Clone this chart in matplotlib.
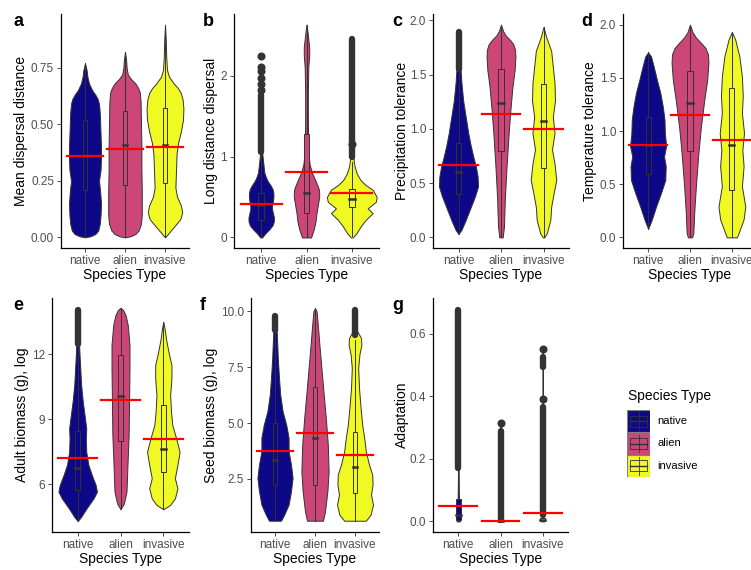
import matplotlib
matplotlib.use("Agg")
import matplotlib.pyplot as plt
from matplotlib.patches import Rectangle

plt.rcParams["font.family"] = ["Liberation Sans", "DejaVu Sans"]

SPECIES = ["native", "alien", "invasive"]
FILL = ["#0D0887", "#CC4678", "#F0F921"]
INK = "#333333"
W, H = 751, 570

# each violin: (y levels, half-width at that level in category units)
# box: (whisker lo, q1, median, q3, whisker hi); spans: dense outlier runs

# a - mean dispersal distance
a_prof = [
    ([0.00, 0.005, 0.015, 0.03, 0.06, 0.10, 0.15, 0.20, 0.25, 0.30, 0.35, 0.40, 0.45, 0.50, 0.55, 0.59, 0.61, 0.63, 0.65, 0.68, 0.71, 0.74, 0.77],
     [0.00, 0.14, 0.26, 0.33, 0.37, 0.39, 0.40, 0.38, 0.35, 0.39, 0.40, 0.40, 0.39, 0.38, 0.37, 0.35, 0.32, 0.26, 0.18, 0.10, 0.06, 0.04, 0.00]),
    ([0.00, 0.005, 0.015, 0.03, 0.06, 0.10, 0.20, 0.30, 0.40, 0.50, 0.60, 0.64, 0.66, 0.68, 0.70, 0.72, 0.75, 0.78, 0.82],
     [0.00, 0.14, 0.26, 0.34, 0.40, 0.42, 0.42, 0.41, 0.41, 0.40, 0.39, 0.37, 0.33, 0.26, 0.15, 0.07, 0.04, 0.03, 0.00]),
    ([0.00, 0.01, 0.025, 0.05, 0.08, 0.11, 0.14, 0.18, 0.22, 0.27, 0.32, 0.37, 0.42, 0.47, 0.52, 0.57, 0.61, 0.64, 0.66, 0.68, 0.71, 0.74, 0.80, 0.87, 0.94],
     [0.00, 0.05, 0.12, 0.24, 0.38, 0.43, 0.40, 0.30, 0.26, 0.27, 0.28, 0.29, 0.33, 0.40, 0.45, 0.46, 0.44, 0.39, 0.32, 0.22, 0.10, 0.05, 0.03, 0.02, 0.00]),
]
a_box = [(0.0, 0.21, 0.36, 0.52, 0.77), (0.0, 0.23, 0.41, 0.56, 0.82), (0.0, 0.24, 0.41, 0.57, 0.94)]
a_mean = [0.36, 0.39, 0.40]
a_spans = [[], [], []]
a_pts = [[], [], []]

# b - long distance dispersal
b_prof = [
    ([0.00, 0.05, 0.10, 0.15, 0.20, 0.25, 0.30, 0.35, 0.40, 0.45, 0.50, 0.55, 0.60, 0.65, 0.70, 0.75, 0.80, 0.90, 1.00, 1.05],
     [0.02, 0.09, 0.18, 0.25, 0.28, 0.28, 0.26, 0.24, 0.24, 0.26, 0.27, 0.27, 0.25, 0.20, 0.14, 0.10, 0.07, 0.05, 0.03, 0.02]),
    ([0.00, 0.05, 0.10, 0.20, 0.30, 0.40, 0.50, 0.55, 0.60, 0.70, 0.80, 0.90, 1.00, 1.20, 1.50, 1.80, 2.10, 2.25, 2.35, 2.45, 2.55, 2.63],
     [0.10, 0.13, 0.16, 0.20, 0.22, 0.25, 0.28, 0.28, 0.27, 0.20, 0.12, 0.07, 0.05, 0.035, 0.03, 0.03, 0.04, 0.06, 0.06, 0.04, 0.02, 0.00]),
    ([0.00, 0.05, 0.14, 0.22, 0.30, 0.36, 0.44, 0.50, 0.59, 0.65, 0.71, 0.79, 0.88, 0.96, 1.05, 1.15],
     [0.02, 0.10, 0.20, 0.31, 0.46, 0.35, 0.53, 0.55, 0.46, 0.30, 0.19, 0.11, 0.06, 0.04, 0.03, 0.02]),
]
b_box = [(0.0, 0.22, 0.40, 0.55, 1.03), (0.0, 0.30, 0.55, 1.28, 2.63), (0.02, 0.38, 0.47, 0.60, 0.93)]
b_mean = [0.41, 0.81, 0.55]
b_spans = [[(1.05, 1.76)], [], [(1.0, 2.45)]]
b_pts = [[1.82, 1.90, 1.97, 2.05, 2.10, 2.24], [], [1.15]]

# c - precipitation tolerance
c_prof = [
    ([0.03, 0.07, 0.16, 0.28, 0.38, 0.47, 0.56, 0.65, 0.74, 0.84, 0.96, 1.11, 1.26, 1.42, 1.54, 1.70, 1.90],
     [0.00, 0.07, 0.17, 0.29, 0.39, 0.46, 0.45, 0.41, 0.35, 0.29, 0.23, 0.17, 0.11, 0.07, 0.05, 0.04, 0.02]),
    ([0.00, 0.10, 0.35, 0.65, 0.96, 1.17, 1.39, 1.54, 1.66, 1.73, 1.78, 1.82, 1.86, 1.90, 1.96],
     [0.04, 0.07, 0.09, 0.13, 0.18, 0.22, 0.27, 0.32, 0.34, 0.33, 0.29, 0.21, 0.11, 0.05, 0.00]),
    ([0.00, 0.04, 0.16, 0.28, 0.41, 0.53, 0.68, 0.81, 0.96, 1.11, 1.26, 1.42, 1.57, 1.72, 1.85, 1.94],
     [0.02, 0.08, 0.16, 0.18, 0.24, 0.30, 0.26, 0.20, 0.26, 0.22, 0.27, 0.26, 0.22, 0.18, 0.06, 0.00]),
]
c_box = [(0.03, 0.40, 0.60, 0.87, 1.55), (0.0, 0.80, 1.24, 1.55, 1.96), (0.0, 0.64, 1.07, 1.41, 1.94)]
c_mean = [0.67, 1.14, 1.00]
c_spans = [[(1.55, 1.89)], [], []]
c_pts = [[], [], []]

# d - temperature tolerance
d_prof = [
    ([0.08, 0.17, 0.29, 0.42, 0.54, 0.67, 0.76, 0.86, 0.98, 1.11, 1.23, 1.36, 1.48, 1.61, 1.70, 1.74],
     [0.00, 0.09, 0.19, 0.31, 0.41, 0.42, 0.38, 0.43, 0.40, 0.39, 0.35, 0.29, 0.21, 0.13, 0.07, 0.00]),
    ([0.00, 0.04, 0.23, 0.48, 0.79, 1.04, 1.29, 1.48, 1.64, 1.72, 1.78, 1.83, 1.88, 1.93, 2.00],
     [0.05, 0.08, 0.10, 0.14, 0.20, 0.26, 0.34, 0.41, 0.44, 0.43, 0.37, 0.26, 0.14, 0.06, 0.00]),
    ([0.00, 0.04, 0.17, 0.29, 0.48, 0.67, 0.82, 0.98, 1.17, 1.33, 1.51, 1.70, 1.86, 1.93],
     [0.12, 0.16, 0.28, 0.32, 0.24, 0.28, 0.25, 0.29, 0.24, 0.26, 0.24, 0.18, 0.08, 0.00]),
]
d_box = [(0.08, 0.60, 0.87, 1.13, 1.74), (0.0, 0.81, 1.26, 1.56, 2.00), (0.0, 0.45, 0.87, 1.40, 1.93)]
d_mean = [0.87, 1.15, 0.92]
d_spans = [[], [], []]
d_pts = [[], [], []]

# e - adult biomass (g), log
e_prof = [
    ([4.3, 4.5, 4.9, 5.35, 5.66, 5.97, 6.43, 6.9, 7.5, 8.12, 8.58, 9.05, 9.8, 10.6, 11.35, 12.1, 12.6],
     [0.00, 0.08, 0.21, 0.37, 0.45, 0.42, 0.33, 0.25, 0.20, 0.19, 0.20, 0.17, 0.12, 0.08, 0.06, 0.04, 0.03]),
    ([4.85, 5.12, 5.66, 6.74, 8.28, 9.8, 11.35, 12.43, 13.35, 13.8, 14.05, 14.15],
     [0.00, 0.08, 0.14, 0.16, 0.19, 0.20, 0.21, 0.21, 0.17, 0.12, 0.06, 0.00]),
    ([4.85, 5.05, 5.35, 5.82, 6.28, 6.9, 7.5, 8.12, 8.74, 9.35, 10.12, 10.9, 11.5, 12.12, 12.74, 13.2, 13.5],
     [0.00, 0.16, 0.27, 0.33, 0.27, 0.33, 0.38, 0.30, 0.21, 0.18, 0.16, 0.19, 0.19, 0.12, 0.06, 0.03, 0.00]),
]
e_box = [(4.3, 5.75, 6.75, 8.45, 12.5), (4.85, 8.0, 10.1, 11.95, 14.15), (4.85, 6.55, 7.65, 9.65, 13.5)]
e_mean = [7.2, 9.9, 8.1]
e_spans = [[(12.5, 14.05)], [], []]
e_pts = [[], [], []]

# f - seed biomass (g), log
f_prof = [
    ([0.63, 0.9, 1.35, 1.95, 2.55, 3.14, 3.74, 4.34, 4.93, 5.53, 6.28, 7.02, 7.92, 8.81, 9.2],
     [0.15, 0.23, 0.34, 0.40, 0.44, 0.40, 0.34, 0.34, 0.28, 0.19, 0.13, 0.10, 0.07, 0.05, 0.04]),
    ([0.63, 1.05, 1.95, 2.84, 4.04, 5.23, 6.43, 7.47, 8.51, 9.4, 10.0, 10.15],
     [0.20, 0.25, 0.31, 0.34, 0.32, 0.27, 0.21, 0.16, 0.11, 0.07, 0.04, 0.00]),
    ([0.63, 0.9, 1.35, 1.8, 2.25, 2.7, 3.14, 3.74, 4.34, 4.93, 5.68, 6.57, 7.47, 8.07, 8.51, 8.81, 9.1],
     [0.27, 0.39, 0.45, 0.40, 0.44, 0.43, 0.35, 0.27, 0.23, 0.18, 0.14, 0.10, 0.08, 0.11, 0.16, 0.15, 0.06]),
]
f_box = [(0.63, 2.25, 3.35, 5.0, 9.1), (0.63, 2.25, 4.35, 6.6, 10.15), (0.63, 1.85, 3.05, 4.6, 8.7)]
f_mean = [3.75, 4.55, 3.55]
f_spans = [[(9.15, 9.8)], [], [(8.95, 10.08)]]
f_pts = [[], [], []]

# g - adaptation
g_prof = [
    ([0.0, 0.05, 0.10, 0.17, 0.30, 0.50, 0.68], [0.04, 0.02, 0.012, 0.008, 0.005, 0.004, 0.0]),
    ([0.0, 0.01, 0.10, 0.31], [0.03, 0.01, 0.004, 0.0]),
    ([0.0, 0.01, 0.10, 0.30, 0.55], [0.04, 0.015, 0.006, 0.004, 0.0]),
]
g_box = [(0.0, 0.003, 0.02, 0.07, 0.17), (0.0, 0.0, 0.0, 0.003, 0.005), (0.0, 0.0, 0.003, 0.01, 0.025)]
g_mean = [0.05, 0.002, 0.026]
g_spans = [[(0.17, 0.675)], [(0.005, 0.29)], [(0.02, 0.365), (0.495, 0.525)]]
g_pts = [[], [0.315], [0.39, 0.55]]

YLABELS = ["Mean dispersal distance", "Long distance dispersal", "Precipitation tolerance",
           "Temperature tolerance", "Adult biomass (g), log", "Seed biomass (g), log", "Adaptation"]
YTICKS = [[0, 0.25, 0.5, 0.75], [0, 1, 2], [0, 0.5, 1, 1.5, 2], [0, 0.5, 1, 1.5, 2],
          [6, 9, 12], [2.5, 5, 7.5, 10], [0, 0.2, 0.4, 0.6]]
YTICKLABELS = [["0.00", "0.25", "0.50", "0.75"], ["0", "1", "2"],
               ["0.0", "0.5", "1.0", "1.5", "2.0"], ["0.0", "0.5", "1.0", "1.5", "2.0"],
               ["6", "9", "12"], ["2.5", "5.0", "7.5", "10.0"], ["0.0", "0.2", "0.4", "0.6"]]
YLIMS = [(-0.047, 0.987), (-0.13, 2.76), (-0.098, 2.058), (-0.1, 2.1),
         (3.8, 14.6), (0.125, 10.6), (-0.034, 0.714)]

# panel boxes in pixels: left, right, top, bottom ; letter pos ; ylabel x
LAYOUT = [
    (61, 189, 14, 248, 18, 22, 21),
    (234, 379, 14, 248, 208, 22, 211),
    (433, 569, 14, 248, 397, 22, 402),
    (623, 757, 14, 248, 587, 22, 590),
    (52, 189, 298, 532, 18, 306, 22),
    (251, 379, 298, 532, 203, 306, 211),
    (433, 568, 298, 532, 398, 306, 402),
]
LETTERS = "abcdefg"
DATA = [
    (a_prof, a_box, a_mean, a_spans, a_pts),
    (b_prof, b_box, b_mean, b_spans, b_pts),
    (c_prof, c_box, c_mean, c_spans, c_pts),
    (d_prof, d_box, d_mean, d_spans, d_pts),
    (e_prof, e_box, e_mean, e_spans, e_pts),
    (f_prof, f_box, f_mean, f_spans, f_pts),
    (g_prof, g_box, g_mean, g_spans, g_pts),
]


def draw_panel(ax, prof, box, means, spans, pts):
    for i, (ys, ws) in enumerate(prof):
        x = i + 1
        left = [x - w for w in ws]
        right = [x + w for w in ws]
        ax.fill_betweenx(ys, left, right, facecolor=FILL[i], edgecolor=INK, lw=0.7, zorder=1)
        lo, q1, med, q3, hi = box[i]
        ax.plot([x, x], [lo, q1], color=INK, lw=0.7, zorder=2)
        ax.plot([x, x], [q3, hi], color=INK, lw=0.7, zorder=2)
        ax.add_patch(Rectangle((x - 0.06, q1), 0.12, q3 - q1, facecolor=FILL[i],
                               edgecolor=INK, lw=0.7, zorder=2))
        ax.plot([x - 0.06, x + 0.06], [med, med], color=INK, lw=1.8, zorder=3)
        for lo_s, hi_s in spans[i]:
            ax.plot([x, x], [lo_s, hi_s], color=INK, lw=4.6, solid_capstyle="round", zorder=3)
        if pts[i]:
            ax.plot([x] * len(pts[i]), pts[i], "o", ms=4.8, color=INK, zorder=3)
        ax.plot([x - 0.45, x + 0.45], [means[i], means[i]], color="red", lw=1.6, zorder=5)


fig = plt.figure(figsize=(W / 100, H / 100), dpi=100)
for k, (l, r, t, b, lx, ly, yx) in enumerate(LAYOUT):
    ax = fig.add_axes([l / W, (H - b) / H, (r - l) / W, (b - t) / H])
    draw_panel(ax, *DATA[k])
    ax.set_xlim(0.4, 3.6)
    ax.set_ylim(*YLIMS[k])
    ax.set_xticks([1, 2, 3])
    ax.set_xticklabels(SPECIES)
    ax.set_yticks(YTICKS[k])
    ax.set_yticklabels(YTICKLABELS[k])
    for s in ("top", "right"):
        ax.spines[s].set_visible(False)
    for s in ("left", "bottom"):
        ax.spines[s].set_linewidth(0.9)
    ax.tick_params(length=3, width=0.6, color=INK, labelcolor="#4D4D4D", labelsize=8.5, pad=2)
    ax.set_xlabel("Species Type", fontsize=10, labelpad=1)
    fig.text(yx / W, 1 - (t + b) / 2 / H, YLABELS[k], rotation=90, ha="center", va="center", fontsize=10)
    fig.text(lx / W, 1 - ly / H, LETTERS[k], ha="center", va="center", fontsize=13, fontweight="bold")

# legend
fig.text(628 / W, 1 - 396 / H, "Species Type", ha="left", va="center", fontsize=10)
lax = fig.add_axes([627 / W, (H - 477) / H, 23 / W, 67 / H])
lax.set_xlim(0, 1)
lax.set_ylim(0, 3)
lax.axis("off")
for i, name in enumerate(SPECIES):
    y0 = 2 - i
    lax.add_patch(Rectangle((0, y0), 1, 1, facecolor=FILL[i], edgecolor="#7F7F7F", lw=0.8))
    lax.plot([0.5, 0.5], [y0 + 0.1, y0 + 0.9], color=INK, lw=0.6)
    lax.add_patch(Rectangle((0.12, y0 + 0.25), 0.76, 0.5, facecolor=FILL[i], edgecolor=INK, lw=0.6))
    lax.plot([0.12, 0.88], [y0 + 0.5, y0 + 0.5], color=INK, lw=1.0)
    fig.text(657 / W, 1 - (421 + 22.5 * i) / H, name, ha="left", va="center", fontsize=8)

fig.savefig("out.png", dpi=100)
